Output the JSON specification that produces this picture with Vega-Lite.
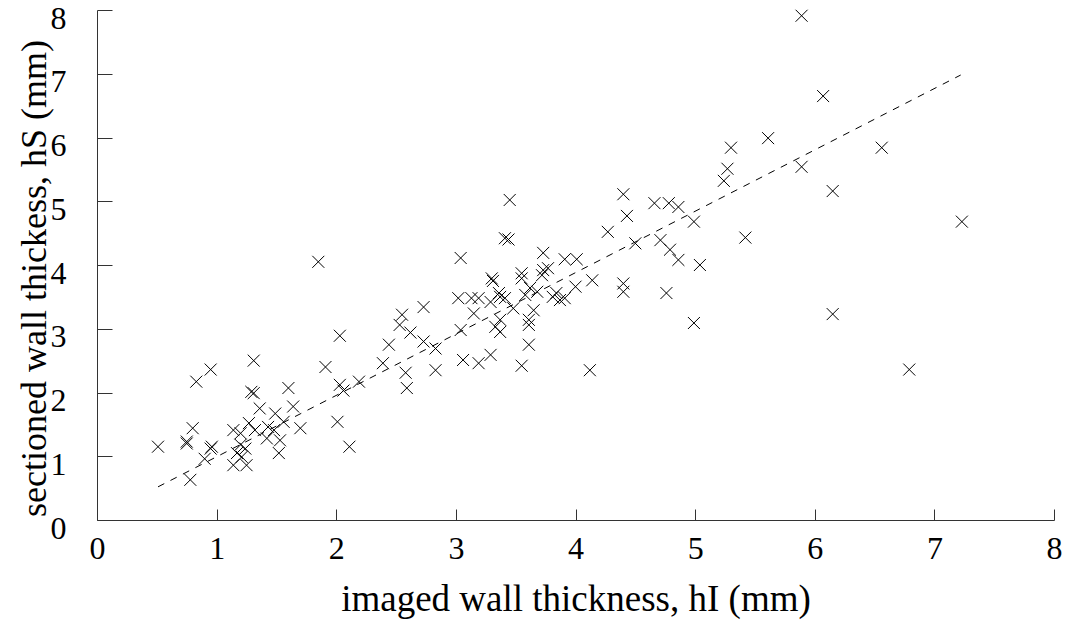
{
  "$schema": "https://vega.github.io/schema/vega-lite/v6.json",
  "width": 957,
  "height": 510,
  "autosize": {"type": "none"},
  "padding": {"left": 97, "top": 10, "right": 16, "bottom": 112},
  "background": "white",
  "config": {"view": {"stroke": null}, "font": "Liberation Serif"},
  "datasets": {
    "fit": [{"hI": 0.51, "hS": 0.52}, {"hI": 7.22, "hS": 6.98}],
    "points": [
      {"hI":0.51,"hS":1.15},{"hI":0.75,"hS":1.23},{"hI":0.75,"hS":1.20},{"hI":0.78,"hS":0.63},{"hI":0.80,"hS":1.44},{"hI":0.83,"hS":2.17},{"hI":0.95,"hS":2.36},{"hI":0.90,"hS":0.96},{"hI":0.95,"hS":1.12},{"hI":0.96,"hS":1.15},
      {"hI":1.14,"hS":1.41},{"hI":1.20,"hS":1.36},{"hI":1.20,"hS":1.18},{"hI":1.24,"hS":1.12},{"hI":1.17,"hS":1.05},{"hI":1.21,"hS":0.99},{"hI":1.14,"hS":0.86},{"hI":1.25,"hS":0.86},{"hI":1.27,"hS":1.52},{"hI":1.32,"hS":1.41},
      {"hI":1.43,"hS":1.46},{"hI":1.48,"hS":1.41},{"hI":1.42,"hS":1.28},{"hI":1.53,"hS":1.25},{"hI":1.52,"hS":1.05},{"hI":1.56,"hS":1.54},{"hI":1.49,"hS":1.67},{"hI":1.36,"hS":1.75},{"hI":1.64,"hS":1.78},{"hI":1.70,"hS":1.44},
      {"hI":1.29,"hS":2.01},{"hI":1.31,"hS":1.99},{"hI":1.31,"hS":2.50},{"hI":1.60,"hS":2.07},{"hI":1.91,"hS":2.40},{"hI":2.03,"hS":2.89},{"hI":2.03,"hS":2.12},{"hI":2.06,"hS":2.03},{"hI":2.19,"hS":2.17},{"hI":2.01,"hS":1.54},
      {"hI":2.11,"hS":1.15},{"hI":1.85,"hS":4.05},{"hI":2.39,"hS":2.46},{"hI":2.44,"hS":2.75},{"hI":2.55,"hS":3.22},{"hI":2.53,"hS":3.06},{"hI":2.62,"hS":2.94},{"hI":2.73,"hS":3.34},{"hI":2.73,"hS":2.80},{"hI":2.83,"hS":2.69},
      {"hI":2.58,"hS":2.31},{"hI":2.59,"hS":2.07},{"hI":2.83,"hS":2.35},{"hI":3.04,"hS":4.11},{"hI":3.02,"hS":3.48},{"hI":3.13,"hS":3.48},{"hI":3.19,"hS":3.48},{"hI":3.04,"hS":2.98},{"hI":3.15,"hS":3.24},{"hI":3.06,"hS":2.51},
      {"hI":3.19,"hS":2.46},{"hI":3.29,"hS":2.59},{"hI":3.30,"hS":3.79},{"hI":3.31,"hS":3.75},{"hI":3.36,"hS":3.56},{"hI":3.37,"hS":3.50},{"hI":3.41,"hS":3.48},{"hI":3.29,"hS":3.42},{"hI":3.37,"hS":3.14},{"hI":3.33,"hS":3.03},
      {"hI":3.37,"hS":2.95},{"hI":3.41,"hS":4.42},{"hI":3.44,"hS":4.40},{"hI":3.45,"hS":5.02},{"hI":3.48,"hS":3.32},{"hI":3.55,"hS":3.87},{"hI":3.55,"hS":3.79},{"hI":3.58,"hS":3.53},{"hI":3.61,"hS":3.14},{"hI":3.61,"hS":3.06},
      {"hI":3.65,"hS":3.29},{"hI":3.68,"hS":3.58},{"hI":3.62,"hS":3.64},{"hI":3.55,"hS":2.42},{"hI":3.61,"hS":2.75},{"hI":3.73,"hS":4.19},{"hI":3.73,"hS":3.92},{"hI":3.77,"hS":3.95},{"hI":3.72,"hS":3.84},{"hI":3.91,"hS":4.09},
      {"hI":4.01,"hS":4.09},{"hI":4.00,"hS":3.66},{"hI":3.84,"hS":3.56},{"hI":3.91,"hS":3.48},{"hI":3.81,"hS":3.50},{"hI":3.87,"hS":3.45},{"hI":4.14,"hS":3.76},{"hI":4.12,"hS":2.35},{"hI":4.27,"hS":4.52},{"hI":4.40,"hS":5.11},
      {"hI":4.43,"hS":4.77},{"hI":4.50,"hS":4.34},{"hI":4.40,"hS":3.71},{"hI":4.40,"hS":3.58},{"hI":4.71,"hS":4.39},{"hI":4.79,"hS":4.24},{"hI":4.86,"hS":4.08},{"hI":5.04,"hS":4.00},{"hI":4.76,"hS":3.56},{"hI":4.66,"hS":4.97},
      {"hI":4.78,"hS":4.97},{"hI":4.86,"hS":4.91},{"hI":4.99,"hS":4.68},{"hI":4.99,"hS":3.09},{"hI":5.42,"hS":4.43},{"hI":5.30,"hS":5.84},{"hI":5.27,"hS":5.51},{"hI":5.24,"hS":5.32},{"hI":5.61,"hS":5.99},{"hI":5.89,"hS":5.54},
      {"hI":5.89,"hS":7.91},{"hI":6.07,"hS":6.65},{"hI":6.56,"hS":5.84},{"hI":6.15,"hS":5.16},{"hI":7.23,"hS":4.68},{"hI":6.15,"hS":3.23},{"hI":6.79,"hS":2.36}
    ]
  },
  "layer": [
    {
      "data": {"name": "fit"},
      "mark": {"type": "line", "color": "black", "strokeWidth": 1, "strokeDash": [7, 7]},
      "encoding": {
        "x": {
          "field": "hI", "type": "quantitative",
          "scale": {"domain": [0, 8], "nice": false, "zero": false},
          "axis": {
            "title": "imaged wall thickness, hI (mm)",
            "values": [0, 1, 2, 3, 4, 5, 6, 7, 8],
            "format": "d",
            "grid": false,
            "tickSize": -11,
            "labelPadding": 24,
            "labelFontSize": 32,
            "labelFont": "Liberation Serif",
            "labelColor": "black",
            "labelFlush": false,
            "labelOverlap": false,
            "titleFont": "Liberation Serif",
            "titleFontSize": 37,
            "titleFontWeight": "normal",
            "titleColor": "black",
            "titleBaseline": "alphabetic",
            "titleY": 90,
            "domainColor": "#333",
            "tickColor": "#333"
          }
        },
        "y": {
          "field": "hS", "type": "quantitative",
          "scale": {"domain": [0, 8], "nice": false, "zero": false},
          "axis": {
            "title": "sectioned wall thickess, hS (mm)",
            "values": [0, 1, 2, 3, 4, 5, 6, 7, 8],
            "format": "d",
            "grid": false,
            "tickSize": -15,
            "labelPadding": 46,
            "labelOffset": 8,
            "labelFontSize": 32,
            "labelFont": "Liberation Serif",
            "labelColor": "black",
            "labelFlush": false,
            "labelOverlap": false,
            "titleFont": "Liberation Serif",
            "titleFontSize": 36,
            "titleFontWeight": "normal",
            "titleColor": "black",
            "titleBaseline": "alphabetic",
            "titleX": -52,
            "titleY": 268,
            "domainColor": "#333",
            "tickColor": "#333"
          }
        }
      }
    },
    {
      "data": {"name": "points"},
      "mark": {"type": "point", "shape": "M-1,-1L1,1M-1,1L1,-1", "size": 144, "filled": false, "stroke": "black", "strokeWidth": 1, "opacity": 1},
      "encoding": {
        "x": {"field": "hI", "type": "quantitative"},
        "y": {"field": "hS", "type": "quantitative"}
      }
    }
  ]
}
